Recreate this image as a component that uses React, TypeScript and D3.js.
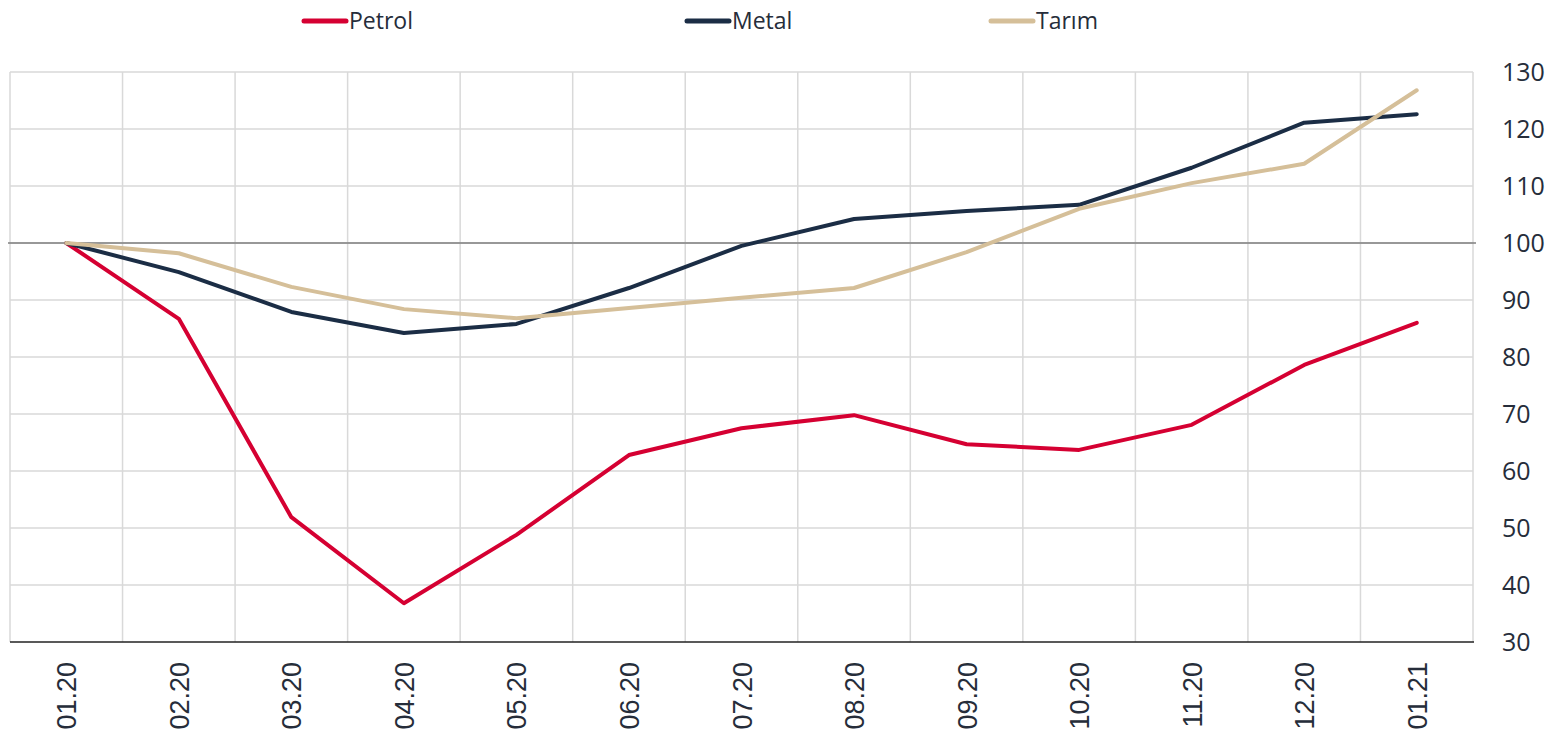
import React, { useEffect, useRef } from "react";
import * as d3 from "d3";

const months = ["01.20", "02.20", "03.20", "04.20", "05.20", "06.20", "07.20", "08.20", "09.20", "10.20", "11.20", "12.20", "01.21"];
const petrol = [100, 86.7, 51.9, 36.8, 48.8, 62.8, 67.5, 69.8, 64.7, 63.7, 68.1, 78.6, 86.0];
const metal = [100, 94.9, 87.9, 84.2, 85.8, 92.1, 99.5, 104.2, 105.6, 106.7, 113.2, 121.1, 122.6];
const tarim = [100, 98.2, 92.3, 88.4, 86.8, 88.6, 90.4, 92.1, 98.4, 106.0, 110.5, 113.9, 126.8];
const yTicks = [30, 40, 50, 60, 70, 80, 90, 100, 110, 120, 130];

const seriesList = [
  { name: "Petrol", values: petrol, color: "#d50032", legendX: 304 },
  { name: "Metal", values: metal, color: "#1b2d45", legendX: 687 },
  { name: "Tarım", values: tarim, color: "#d5bf99", legendX: 991 },
];

const W = 1568;
const H = 738;
const left = 10;
const right = 1473;
const top = 72;
const bottom = 642;

export default function App() {
  const ref = useRef<SVGSVGElement>(null);

  useEffect(() => {
    const svg = d3.select(ref.current);
    svg.selectAll("*").remove();

    const x = d3.scaleBand<string>().domain(months).range([left, right]);
    const y = d3.scaleLinear().domain([30, 130]).range([bottom, top]);

    // horizontal grid
    svg
      .append("g")
      .selectAll("line")
      .data(yTicks.filter((t) => t !== 30))
      .enter()
      .append("line")
      .attr("x1", left)
      .attr("x2", right)
      .attr("y1", (d) => y(d))
      .attr("y2", (d) => y(d))
      .attr("stroke", "#d9d9d9")
      .attr("stroke-width", 1.5);

    // vertical grid
    const bounds = months.map((m) => x(m)!).concat([right]);
    svg
      .append("g")
      .selectAll("line")
      .data(bounds)
      .enter()
      .append("line")
      .attr("x1", (d) => d)
      .attr("x2", (d) => d)
      .attr("y1", top)
      .attr("y2", bottom)
      .attr("stroke", "#d9d9d9")
      .attr("stroke-width", 1.5);

    // 100 reference line
    svg
      .append("line")
      .attr("x1", left - 2)
      .attr("x2", right + 3)
      .attr("y1", y(100))
      .attr("y2", y(100))
      .attr("stroke", "#7f7f7f")
      .attr("stroke-width", 1.5);

    // bottom axis line
    svg
      .append("line")
      .attr("x1", left)
      .attr("x2", right + 1)
      .attr("y1", bottom)
      .attr("y2", bottom)
      .attr("stroke", "#222")
      .attr("stroke-width", 1.5);

    // y labels
    svg
      .append("g")
      .selectAll("text")
      .data(yTicks)
      .enter()
      .append("text")
      .attr("x", 1502)
      .attr("y", (d) => y(d))
      .attr("dy", "0.35em")
      .attr("font-family", "'Open Sans', sans-serif")
      .attr("font-size", 25)
      .attr("fill", "#262d3a")
      .text((d) => d);

    // x labels
    svg
      .append("g")
      .selectAll("text")
      .data(months)
      .enter()
      .append("text")
      .attr("transform", (d) => `translate(${x(d)! + x.bandwidth() / 2 + 10},662) rotate(-90)`)
      .attr("text-anchor", "end")
      .attr("font-family", "'Liberation Sans', Arial, sans-serif")
      .attr("font-size", 27)
      .attr("fill", "#262d3a")
      .text((d) => d);

    const line = d3
      .line<number>()
      .x((_, i) => x(months[i])! + x.bandwidth() / 2)
      .y((d) => y(d));

    seriesList.forEach((s) => {
      svg
        .append("path")
        .datum(s.values)
        .attr("d", line)
        .attr("fill", "none")
        .attr("stroke", s.color)
        .attr("stroke-width", 4)
        .attr("stroke-linejoin", "round")
        .attr("stroke-linecap", "round");
    });

    // legend
    const legend = svg.append("g");
    seriesList.forEach((s) => {
      legend
        .append("line")
        .attr("x1", s.legendX)
        .attr("x2", s.legendX + 42)
        .attr("y1", 21)
        .attr("y2", 21)
        .attr("stroke", s.color)
        .attr("stroke-width", 5)
        .attr("stroke-linecap", "round");
      legend
        .append("text")
        .attr("x", s.legendX + 45)
        .attr("y", 21)
        .attr("dy", "0.35em")
        .attr("font-family", "'Open Sans', sans-serif")
        .attr("font-size", 23)
        .attr("fill", "#262d3a")
        .text(s.name);
    });
  }, []);

  return (
    <svg
      ref={ref}
      width={W}
      height={H}
      style={{ position: "absolute", left: 0, top: 0, background: "#fff" }}
    />
  );
}
